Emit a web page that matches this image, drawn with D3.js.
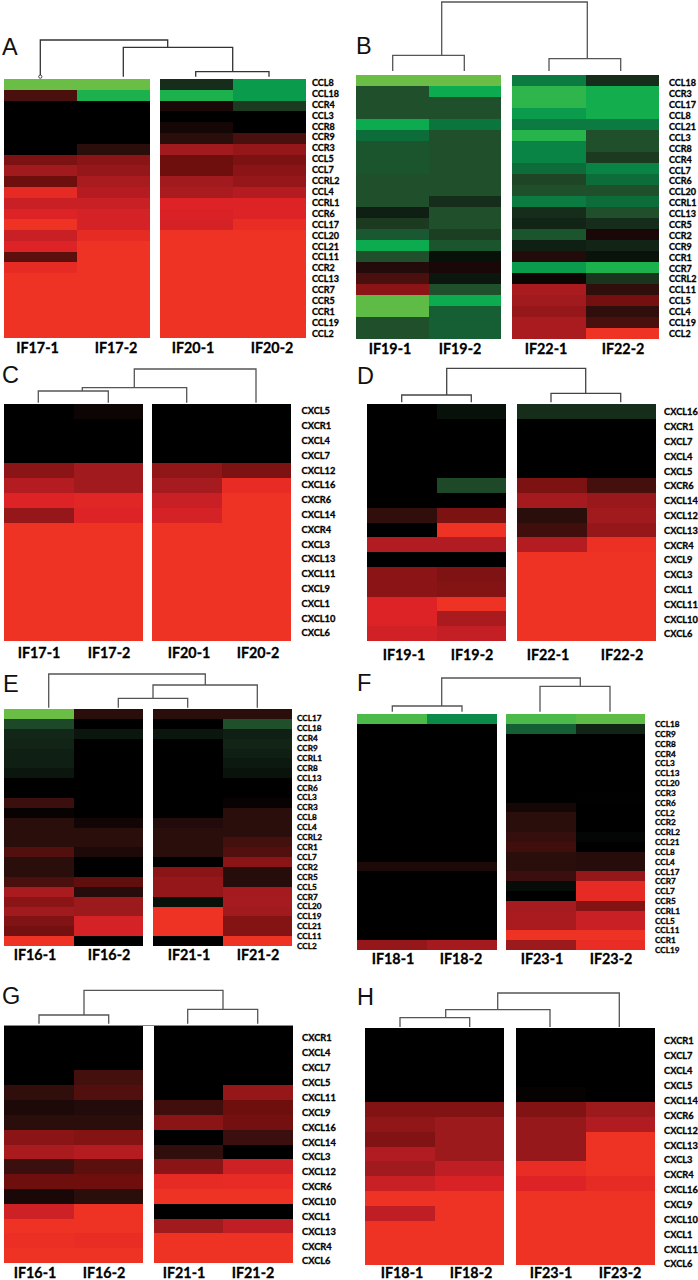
<!DOCTYPE html>
<html><head><meta charset="utf-8">
<script src="https://cdn.jsdelivr.net/npm/d3@7/dist/d3.min.js"></script>
<style>html,body{margin:0;padding:0;background:#fff}svg{display:block}</style>
</head><body><svg id="c" width="698" height="1280"></svg>
<script>
// Colour levels: negative = green, 0 = black, positive = red
const colourDomain=[-8,-7,-6,-5,-4,-3,-2,-1,0,1,2,3,4,5,6,7,8,9];
const colourRange=["#6abd45","#2eb64c","#0cab4f","#0a8a48","#0c6c3a","#1f4f2b","#1b3a20","#0f1f14","#000000","#2a0e0c","#4a100e","#6e0f0e","#8a1416","#a01a1e","#b41c22","#c92026","#de2326","#ee3224"];

const samplesA=["IF17-1","IF17-2","IF20-1","IF20-2"];
const labelsA=["CCL8","CCL18","CCR4","CCL3","CCR8","CCR9","CCR3","CCL5","CCL7","CCRL2","CCL4","CCRL1","CCR6","CCL17","CCL20","CCL21","CCL11","CCR2","CCL13","CCR7","CCR5","CCR1","CCL19","CCL2"];
const valuesA=[[-8,-8,-1.5,-5.5],[2,-6.5,-6.5,-5.5],[0,0,.6,-2],[0,0,0,0],[0,0,.5,0],[0,0,1,2],[0,1,5,4.5],[3.5,4,3,3.5],[5,4.5,3,4],[3,5.5,5,4.5],[8.5,6,5.5,6],[7,7,8,8],[8,7.5,7.8,8],[9,7.5,7.5,8.7],[7,8.5,9,9],[8,9,9,9],[2.5,9,9,9],[8.5,9,9,9],[9,9,9,9],[9,9,9,9],[9,9,9,9],[9,9,9,9],[9,9,9,9],[9,9,9,9]];
const mergesA=[[2,3,7.3,232.7],[1,4,31.7,167.7],[0,5,39,0]];

const samplesB=["IF19-1","IF19-2","IF22-1","IF22-2"];
const labelsB=["CCL18","CCR3","CCL17","CCL8","CCL21","CCL3","CCR8","CCR4","CCL7","CCR6","CCL20","CCRL1","CCL13","CCR5","CCR2","CCR9","CCR1","CCR7","CCRL2","CCL11","CCL5","CCL4","CCL19","CCL2"];
const valuesB=[[-8,-8,-4.5,-1.5],[-3,-6,-7,-6.2],[-3,-3,-7,-6.2],[-3,-3,-5.5,-6.2],[-6,-4.3,-4.5,-4.5],[-4,-3,-6.8,-3],[-3.2,-3,-4.8,-3],[-3.2,-3,-4.8,-2],[-3.2,-3,-4,-4.8],[-3,-3,-2.5,-4],[-3,-3,-3,-3],[-3,-1.5,-4.5,-4],[-1,-3,-1.5,-3],[-2,-3,-1.2,-1.5],[-3.3,-2.2,-3.2,.6],[-6,-3.2,-1,-1.2],[-3,-.5,.8,-.6],[.8,.6,-5.5,-6.5],[2,-.7,.3,-1.8],[4,-3,5.5,1.2],[-7.8,-6,5,3.2],[-7.8,-3.5,4.5,1.2],[-3,-3.5,5.5,2],[-3,-3.5,5.5,9]];
const mergesB=[[0,1,19.7,441.7],[2,3,16.3,587.3],[4,5,73,0]];

const samplesC=["IF17-1","IF17-2","IF20-1","IF20-2"];
const labelsC=["CXCL5","CXCR1","CXCL4","CXCL7","CXCL12","CXCL16","CXCR6","CXCL14","CXCR4","CXCL3","CXCL13","CXCL11","CXCL9","CXCL1","CXCL10","CXCL6"];
const valuesC=[[0,.3,0,0],[0,0,0,0],[0,0,0,0],[0,0,0,0],[4,5,4.3,3.5],[6,5,5.3,8.6],[8,8.2,7,9],[4.5,8,7.5,9],[9,9,9,9],[9,9,9,9],[9,9,9,9],[9,9,9,9],[9,9,9,9],[9,9,9,9],[9,9,9,9],[9,9,9,9]];
const mergesC=[[0,1,13,82.3],[4,2,16.3,134.3],[5,3,35,0]];

const samplesD=["IF19-1","IF19-2","IF22-1","IF22-2"];
const labelsD=["CXCL16","CXCR1","CXCL7","CXCL4","CXCL5","CXCR6","CXCL14","CXCL12","CXCL13","CXCR4","CXCL9","CXCL3","CXCL1","CXCL11","CXCL10","CXCL6"];
const valuesD=[[0,-.5,-1.5,-1.5],[0,0,0,0],[0,0,0,0],[0,0,0,0],[0,0,0,0],[0,-2.7,3.5,1.8],[0,0,5.2,4.7],[1.2,3.5,1,5],[0,9,1.7,4.5],[5.8,5.8,6,8.9],[0,0,9,9],[4,3.6,9,9],[4,3.8,9,9],[8,9,9,9],[8,5.5,9,9],[7.3,6.7,9,9]];
const mergesD=[[0,1,9,446.7],[2,3,10.7,585.7],[4,5,35.7,0]];

const samplesE=["IF16-1","IF16-2","IF21-1","IF21-2"];
const labelsE=["CCL17","CCL18","CCR4","CCR9","CCRL1","CCR8","CCL13","CCR6","CCL3","CCR3","CCL8","CCL4","CCRL2","CCR1","CCL7","CCR2","CCR5","CCL5","CCR7","CCL20","CCL19","CCL21","CCL11","CCL2"];
const valuesE=[[-8,1,1,1],[-2.7,0,0,-3],[-1.3,-.7,-.7,-1],[-1.2,0,0,-1.2],[-1,0,0,-1],[-1,0,0,-.8],[-.7,0,0,-.6],[0,0,0,0],[0,0,0,0],[1.5,0,0,.2],[.2,0,0,1],[1,.4,.8,1],[1,1,1,1],[1,1,1,1.8],[2.2,.7,1,2.2],[1,0,0,4],[1,0,4,.9],[2,2.6,4.5,.9],[5.5,.9,4.5,5.2],[4,4.8,-.5,5.3],[5,4.8,9,5],[3.7,7.5,9,3.8],[3.2,7.5,9,3.8],[9,0,0,9]];
const mergesE=[[1,2,10.7,153],[4,3,24,205.3],[0,5,35,0]];

const samplesF=["IF18-1","IF18-2","IF23-1","IF23-2"];
const labelsF=["CCL18","CCR9","CCR8","CCR4","CCL3","CCL13","CCL20","CCR3","CCR6","CCL2","CCR2","CCRL2","CCL21","CCL8","CCL4","CCL17","CCR7","CCL7","CCR5","CCRL1","CCL5","CCL11","CCR1","CCL19"];
const valuesF=[[-7.5,-5,-7.5,-7.8],[0,0,-3.6,-1.2],[0,0,0,0],[0,0,0,0],[0,0,0,0],[0,0,0,0],[0,0,0,0],[0,0,0,0],[0,0,0,.05],[0,0,.5,0],[0,0,1,0],[0,0,1,0],[0,0,1.3,-.2],[0,0,1.7,0],[0,0,1,.9],[.7,.7,1,.9],[0,0,1.5,4.5],[0,0,-.4,8.5],[0,0,0,8.5],[0,0,5.3,3.8],[0,0,5.5,7],[0,0,5.5,7],[0,0,9,9],[4.5,5.2,4.8,8.7]];
const mergesF=[[0,1,8,441.7],[2,3,27.7,580.3],[4,5,36,0]];

const samplesG=["IF16-1","IF16-2","IF21-1","IF21-2"];
const labelsG=["CXCR1","CXCL4","CXCL7","CXCL5","CXCL11","CXCL9","CXCL16","CXCL14","CXCL3","CXCL12","CXCR6","CXCL10","CXCL1","CXCL13","CXCR4","CXCL6"];
const valuesG=[[0,0,0,0],[0,0,0,0],[0,0,0,0],[0,1.8,0,0],[1.2,2.2,0,4.5],[.7,.8,1.7,3],[1,1,4,3.2],[4,3.8,0,1.5],[5.5,6,1.2,0],[1.5,2.5,4,7.2],[3,3,8.5,8.6],[.6,1,9,9],[7.2,9,0,0],[9,9,5,6.5],[8.8,8.7,9,9],[9,9,9,9]];
const mergesG=[[0,1,11,84],[2,3,16.7,223],[4,5,35.7,0]];

const samplesH=["IF18-1","IF18-2","IF23-1","IF23-2"];
const labelsH=["CXCR1","CXCL7","CXCL4","CXCL5","CXCL14","CXCR6","CXCL12","CXCL13","CXCL3","CXCR4","CXCL16","CXCL9","CXCL10","CXCL1","CXCL11","CXCL6"];
const valuesH=[[0,0,0,0],[0,0,0,0],[0,0,0,0],[0,0,0,0],[0,0,.15,0],[3.7,3.7,3.7,4.8],[4.3,4.8,4.6,5.8],[3.7,4.8,4.6,9],[5.8,4.8,4.6,9],[5,6.5,8.7,9],[7,7.7,8,8.5],[9,9,9,9],[6.5,9,9,9],[9,9,9,9],[9,9,9,9],[9,9,9,9]];
const mergesH=[[0,1,10.3,445.7],[4,2,18.3,497.7],[5,3,35,0]];

// Layout only
const panels=[
 {id:"A",samples:samplesA,labels:labelsA,values:valuesA,merges:mergesA,x:[4,150,160,306],y:[79,338],lab:312,first:82.5,last:333.5,fs:9,leaf:[40.3,123.3,195.7,269],tip:2.3,sx:[37.5,116,193,272],sy:348,lx:2,ly:55,dc:"#333"},
 {id:"B",samples:samplesB,labels:labelsB,values:valuesB,merges:mergesB,x:[356,501,512,659],y:[75,339],lab:669,first:83,last:333.5,fs:9,leaf:[392.7,464.3,549,620.7],tip:4,sx:[390,460,546,623],sy:349,lx:356,ly:54,dc:"#555"},
 {id:"C",samples:samplesC,labels:labelsC,values:valuesC,merges:mergesC,x:[4,143,152,291],y:[404,641],lab:301.5,first:411,last:633,fs:9.3,leaf:[38.3,108.3,186.7,256],tip:1.3,sx:[39,109,189,258],sy:653,lx:2,ly:383,dc:"#555"},
 {id:"D",samples:samplesD,labels:labelsD,values:valuesD,merges:mergesD,x:[367,506,517,656],y:[404,641],lab:664,first:412,last:634,fs:9.3,leaf:[401.7,471.3,551,620.7],tip:1.7,sx:[404,472,548,622],sy:655,lx:357,ly:384,dc:"#444"},
 {id:"E",samples:samplesE,labels:labelsE,values:valuesE,merges:mergesE,x:[4,143,153,292],y:[709,946],lab:297,first:718,last:946,fs:8.2,leaf:[48.7,118.3,187.7,257.3],tip:1.3,sx:[35,109,189,258],sy:955,lx:3,ly:692,dc:"#555"},
 {id:"F",samples:samplesF,labels:labelsF,values:valuesF,merges:mergesF,x:[357,497,506,645],y:[714,950],lab:655,first:724,last:950,fs:8.2,leaf:[392.3,462,540,610],tip:2.3,sx:[393,461,542,611],sy:959,lx:357,ly:691,dc:"#555"},
 {id:"G",samples:samplesG,labels:labelsG,values:valuesG,merges:mergesG,x:[4,143,153.5,293],y:[1026,1263],lab:302,first:1038,last:1261,fs:9.3,leaf:[39,108.7,187.7,257.7],tip:2.3,sx:[35,104,184,253],sy:1273,lx:2,ly:1004,dc:"#555",rule:true},
 {id:"H",samples:samplesH,labels:labelsH,values:valuesH,merges:mergesH,x:[365,504,516,655],y:[1028,1265],lab:664,first:1041,last:1264,fs:9.3,leaf:[400,469.7,550,619.3],tip:1,sx:[402,471,551,620],sy:1273,lx:357,ly:1005,dc:"#555"}
];

const colour=d3.scaleLinear().domain(colourDomain).range(colourRange).clamp(true);
const svg=d3.select("#c");
const LABEL='Lato,"Open Sans",sans-serif';

panels.forEach(p=>{
  const g=svg.append("g").attr("class","panel-"+p.id);
  const y=d3.scaleBand().domain(p.labels).range(p.y).padding(0);
  const colsL=d3.scaleBand().domain([0,1]).range([p.x[0],p.x[1]]);
  const colsR=d3.scaleBand().domain([2,3]).range([p.x[2],p.x[3]]);
  const cx=i=>i<2?colsL(i):colsR(i);
  const cw=i=>i<2?colsL.bandwidth():colsR.bandwidth();
  const cells=p.values.flatMap((row,r)=>row.map((v,c)=>({v,c,r:p.labels[r]})));
  g.append("g").attr("shape-rendering","crispEdges").selectAll("rect").data(cells).join("rect")
    .attr("x",d=>cx(d.c)).attr("y",d=>y(d.r)).attr("width",d=>cw(d.c)).attr("height",y.bandwidth())
    .attr("fill",d=>colour(d.v));
  if(p.rule) g.append("line").attr("x1",p.x[0]).attr("x2",p.x[3]).attr("y1",p.y[0]-.5).attr("y2",p.y[0]-.5).attr("stroke","#888").attr("stroke-width",1);

  // row labels
  const yl=d3.scalePoint().domain(p.labels).range([p.first,p.last]);
  const ax=g.append("g").attr("transform",`translate(${p.lab},0)`).call(d3.axisRight(yl).tickSize(0).tickPadding(0));
  ax.select(".domain").remove();
  ax.selectAll("text").attr("font-family",LABEL).attr("font-weight",700).attr("font-size",p.fs).attr("fill","#000").attr("stroke","#000").attr("stroke-width",.3).attr("dy",".32em");

  // sample labels
  g.append("g").selectAll("text").data(p.samples).join("text")
    .attr("x",(d,i)=>p.sx[i]).attr("y",p.sy).attr("dy",".35em").attr("text-anchor","middle")
    .attr("font-family",LABEL).attr("font-weight",700).attr("font-size",14.3).attr("fill","#000").attr("stroke","#000").attr("stroke-width",.3).text(d=>d);

  // panel letter
  g.append("text").attr("x",p.lx).attr("y",p.ly).attr("font-family",'"Liberation Sans",sans-serif')
    .attr("font-size",23.5).attr("fill","#111").text(p.id);

  // dendrogram: merges = [left node, right node, height, joint x]
  const h=d3.scaleLinear().domain([0,1]).range([p.y[0],p.y[0]-1]);
  const nodes=p.leaf.map(x=>({x,d:p.tip}));
  const path=d3.path();
  p.merges.forEach(m=>{
    const a=nodes[m[0]],b=nodes[m[1]];
    path.moveTo(a.x,h(a.d));path.lineTo(a.x,h(m[2]));path.lineTo(b.x,h(m[2]));path.lineTo(b.x,h(b.d));
    nodes.push({x:m[3],d:m[2]});
  });
  g.append("path").attr("d",path.toString()).attr("fill","none").attr("stroke",p.dc).attr("stroke-width",1.3);
  if(p.id==="A") g.append("circle").attr("cx",p.leaf[0]).attr("cy",h(p.tip)).attr("r",1.6).attr("fill","#fff").attr("stroke","#222").attr("stroke-width",.8);
});
</script></body></html>
